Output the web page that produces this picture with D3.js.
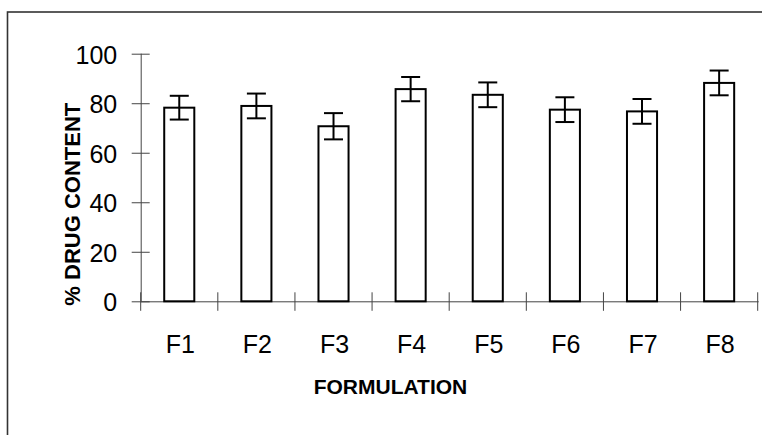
<!DOCTYPE html>
<html>
<head>
<meta charset="utf-8">
<script src="https://cdn.jsdelivr.net/npm/d3@7"></script>
<style>
  html, body { margin: 0; padding: 0; background: #fff; }
  svg { display: block; }
  text { font-family: "Liberation Sans", Arial, sans-serif; fill: #000; }
</style>
</head>
<body>
<svg id="chart" width="762" height="435"></svg>
<script>
const categories = ["F1", "F2", "F3", "F4", "F5", "F6", "F7", "F8"];
const drugContent = [78.2, 78.9, 70.7, 85.7, 83.4, 77.4, 76.7, 88.2];
const errors = [4.8, 5.0, 5.3, 4.9, 5.0, 5.0, 5.0, 5.0];
const yTicks = [0, 20, 40, 60, 80, 100];
const xTitle = "FORMULATION";
const yTitle = "% DRUG CONTENT";

const svg = d3.select("#chart");

// outer frame (left and top edges visible)
svg.append("rect")
  .attr("x", 7.5).attr("y", 12)
  .attr("width", 800).attr("height", 500)
  .attr("fill", "none").attr("stroke", "#333").attr("stroke-width", 1.6);

const plotLeft = 140.7, plotRight = 757.7, plotTop = 53.7, plotBottom = 301.3;

const x = d3.scaleBand()
  .domain(categories)
  .range([plotLeft, plotRight])
  .paddingInner(0.61)
  .paddingOuter(0.305);
const step = x.step();
const bw = x.bandwidth();

const y = d3.scaleLinear().domain([0, 100]).range([plotBottom, plotTop]);

// Y axis
const yAxis = svg.append("g")
  .attr("transform", `translate(${plotLeft},0)`)
  .call(d3.axisLeft(y).tickValues(yTicks).tickSize(9).tickPadding(0).tickSizeOuter(0));
yAxis.select(".domain").attr("stroke", "#444").attr("stroke-width", 1).attr("d", `M0.5,${plotTop}V${plotBottom}`);
yAxis.selectAll(".tick line").attr("x1", -9).attr("x2", 9).attr("stroke", "#444").attr("stroke-width", 1);
yAxis.selectAll(".tick text")
  .attr("x", -23.5)
  .attr("dy", "0.38em")
  .style("font-family", "'Liberation Sans', Arial, sans-serif")
  .style("font-size", "25px")
  .attr("fill", "#000");

// X axis line and boundary ticks
const boundaries = categories.map(c => x(c) + bw / 2 - step / 2).concat([x(categories[categories.length - 1]) + bw / 2 + step / 2]);
svg.append("line")
  .attr("x1", plotLeft).attr("x2", plotRight + 1)
  .attr("y1", plotBottom + 0.5).attr("y2", plotBottom + 0.5)
  .attr("stroke", "#444").attr("stroke-width", 1);
svg.selectAll(".xtick").data(boundaries).join("line")
  .attr("class", "xtick")
  .attr("x1", d => d).attr("x2", d => d)
  .attr("y1", plotBottom - 9).attr("y2", plotBottom + 9.5)
  .attr("stroke", "#444").attr("stroke-width", 1);

// X labels
svg.selectAll(".xlab").data(categories).join("text")
  .attr("class", "xlab")
  .attr("x", d => x(d) + bw / 2 + 1)
  .attr("y", 352.7)
  .attr("text-anchor", "middle")
  .style("font-size", "25px")
  .text(d => d);

// Bars
svg.selectAll(".bar").data(categories).join("rect")
  .attr("class", "bar")
  .attr("x", d => x(d))
  .attr("y", (d, i) => y(drugContent[i]))
  .attr("width", bw)
  .attr("height", (d, i) => y(0) - y(drugContent[i]))
  .attr("fill", "#fff")
  .attr("stroke", "#000")
  .attr("stroke-width", 2);

// Error bars
const cap = 9.5;
const eb = svg.selectAll(".err").data(categories).join("g").attr("class", "err");
eb.append("line")
  .attr("x1", d => x(d) + bw / 2).attr("x2", d => x(d) + bw / 2)
  .attr("y1", (d, i) => y(drugContent[i] + errors[i]))
  .attr("y2", (d, i) => y(drugContent[i] - errors[i]))
  .attr("stroke", "#000").attr("stroke-width", 2);
eb.append("line")
  .attr("x1", d => x(d) + bw / 2 - cap).attr("x2", d => x(d) + bw / 2 + cap)
  .attr("y1", (d, i) => y(drugContent[i] + errors[i]))
  .attr("y2", (d, i) => y(drugContent[i] + errors[i]))
  .attr("stroke", "#000").attr("stroke-width", 2);
eb.append("line")
  .attr("x1", d => x(d) + bw / 2 - cap).attr("x2", d => x(d) + bw / 2 + cap)
  .attr("y1", (d, i) => y(drugContent[i] - errors[i]))
  .attr("y2", (d, i) => y(drugContent[i] - errors[i]))
  .attr("stroke", "#000").attr("stroke-width", 2);

// Axis titles
svg.append("text")
  .attr("x", 390.5).attr("y", 394)
  .attr("text-anchor", "middle")
  .style("font-size", "21px").style("font-weight", "bold")
  .text(xTitle);

svg.append("text")
  .attr("transform", "translate(79.5,204.2) rotate(-90)")
  .attr("text-anchor", "middle")
  .style("font-size", "22px").style("font-weight", "bold")
  .text(yTitle);
</script>
</body>
</html>
